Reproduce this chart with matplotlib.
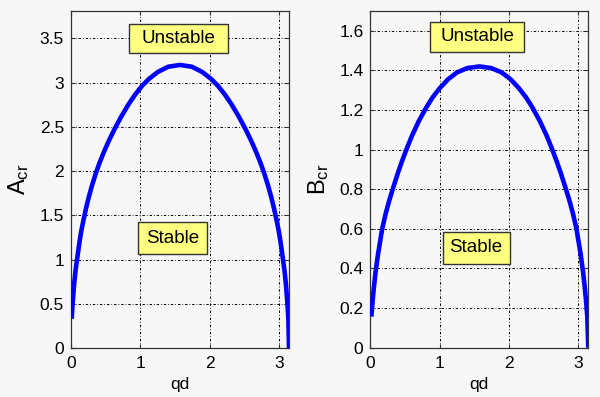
import matplotlib
matplotlib.use("Agg")
import matplotlib.pyplot as plt
from matplotlib.patches import Rectangle

plt.rcParams['font.family'] = ['Liberation Sans', 'DejaVu Sans']
plt.rcParams['mathtext.fontset'] = 'custom'
plt.rcParams['mathtext.rm'] = 'Liberation Sans'
plt.rcParams['mathtext.default'] = 'regular'

# ---- data ----
qd_A = [0.010, 0.023, 0.045, 0.065, 0.087, 0.123, 0.150, 0.181, 0.220, 0.258,
        0.300, 0.356, 0.410, 0.476, 0.550, 0.631, 0.720, 0.825, 0.920, 1.020,
        1.120, 1.250, 1.400, 1.571, 1.742, 1.892, 2.022, 2.122, 2.222, 2.317,
        2.422, 2.511, 2.592, 2.666, 2.732, 2.786, 2.842, 2.884, 2.922, 2.961,
        2.992, 3.019, 3.055, 3.077, 3.097, 3.119, 3.132, 3.1416]
A_cr = [0.33, 0.50, 0.72, 0.87, 1.00, 1.20, 1.33, 1.45, 1.59, 1.71,
        1.83, 1.97, 2.09, 2.22, 2.35, 2.48, 2.61, 2.75, 2.86, 2.96,
        3.04, 3.12, 3.18, 3.20, 3.18, 3.12, 3.04, 2.96, 2.86, 2.75,
        2.61, 2.48, 2.35, 2.22, 2.09, 1.97, 1.83, 1.71, 1.59, 1.45,
        1.33, 1.20, 1.00, 0.87, 0.72, 0.50, 0.33, 0.00]

qd_B = [0.015, 0.030, 0.050, 0.075, 0.110, 0.171, 0.220, 0.270, 0.327, 0.400,
        0.460, 0.525, 0.600, 0.700, 0.810, 0.900, 1.000, 1.120, 1.250, 1.400,
        1.571, 1.742, 1.892, 2.022, 2.142, 2.242, 2.332, 2.442, 2.542, 2.617,
        2.682, 2.742, 2.815, 2.872, 2.922, 2.971, 3.032, 3.067, 3.092, 3.112,
        3.127, 3.1416]
B_cr = [0.157, 0.225, 0.30, 0.38, 0.47, 0.60, 0.675, 0.74, 0.805, 0.885,
        0.945, 1.005, 1.07, 1.145, 1.215, 1.265, 1.31, 1.355, 1.39, 1.412,
        1.42, 1.412, 1.39, 1.355, 1.31, 1.265, 1.215, 1.145, 1.07, 1.005,
        0.945, 0.885, 0.805, 0.74, 0.675, 0.60, 0.47, 0.38, 0.30, 0.225,
        0.157, 0.00]

x_ticks = [0, 1, 2, 3]
A_ticks = [0, 0.5, 1, 1.5, 2, 2.5, 3, 3.5]
A_tick_labels = ['0', '0.5', '1', '1.5', '2', '2.5', '3', '3.5']
B_ticks = [0, 0.2, 0.4, 0.6, 0.8, 1.0, 1.2, 1.4, 1.6]
B_tick_labels = ['0', '0.2', '0.4', '0.6', '0.8', '1', '1.2', '1.4', '1.6']

BG = '#f7f7f7'
BOX_FACE = '#ffff80'
BOX_EDGE = '#333333'

fig = plt.figure(figsize=(6.0, 3.97), dpi=100, facecolor=BG)
axA = fig.add_axes([0.1183, 0.1234, 0.3634, 0.8489])
axB = fig.add_axes([0.6172, 0.1242, 0.3633, 0.8481])


def style(ax, yticks, ylabels, ylim, ylabel):
    ax.set_facecolor(BG)
    ax.set_xlim(0, 3.1416)
    ax.set_ylim(*ylim)
    ax.set_xticks(x_ticks)
    ax.set_xticklabels([str(t) for t in x_ticks])
    ax.set_yticks(yticks)
    ax.set_yticklabels(ylabels)
    ax.grid(True, color='black', linewidth=0.7, linestyle=(0, (2.5, 2.0, 0.8, 2.0)))
    ax.set_axisbelow(True)
    for s in ax.spines.values():
        s.set_color('#333333')
        s.set_linewidth(0.9)
    ax.tick_params(direction='in', top=True, right=True, length=3, width=0.8,
                   labelsize=12.5, colors='#333333', labelcolor='black')
    ax.tick_params(axis='x', pad=6)
    ax.tick_params(axis='y', pad=5)
    ax.set_xlabel('qd', fontsize=12.5, labelpad=4)
    ax.set_ylabel(ylabel, fontsize=17, labelpad=6)


def label_box(ax, text, x0, x1, y0, y1):
    ax.add_patch(Rectangle((x0, y0), x1 - x0, y1 - y0, facecolor=BOX_FACE,
                           edgecolor=BOX_EDGE, linewidth=1.0, zorder=4))
    ax.text((x0 + x1) / 2, (y0 + y1) / 2, text, ha='center', va='center',
            fontsize=13.5, zorder=5)


axA.plot(qd_A, A_cr, color='#0000ff', linewidth=3.3, solid_joinstyle='round',
         solid_capstyle='butt', zorder=3)
style(axA, A_ticks, A_tick_labels, (0, 3.81), r'$A_{cr}$')
label_box(axA, 'Unstable', 0.84, 2.265, 3.33, 3.66)
label_box(axA, 'Stable', 0.968, 1.96, 1.06, 1.425)

axB.plot(qd_B, B_cr, color='#0000ff', linewidth=3.3, solid_joinstyle='round',
         solid_capstyle='butt', zorder=3)
style(axB, B_ticks, B_tick_labels, (0, 1.70), r'$B_{cr}$')
label_box(axB, 'Unstable', 0.861, 2.218, 1.494, 1.646)
label_box(axB, 'Stable', 1.045, 2.006, 0.4225, 0.5856)

fig.savefig('out.png', dpi=100, facecolor=BG)
